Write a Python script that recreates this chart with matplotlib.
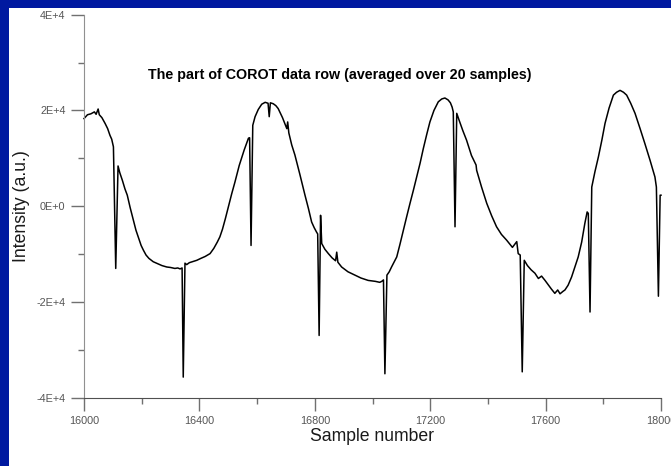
import matplotlib
matplotlib.use("Agg")
import matplotlib.pyplot as plt
from matplotlib.patches import Rectangle
from matplotlib.ticker import MultipleLocator

# Points (sample number, intensity)
samples = [16000, 16012, 16024, 16036, 16042, 16049, 16053, 16062, 16073,
           16082, 16090, 16096, 16102, 16110, 16118, 16124, 16133, 16142,
           16150, 16160, 16171, 16180, 16190, 16198, 16206, 16215, 16225,
           16240, 16255, 16270, 16287, 16300, 16315, 16325, 16333, 16340,
           16344, 16350, 16356, 16365, 16380, 16391, 16405, 16420, 16437,
           16450, 16462, 16471, 16480, 16490, 16500, 16512, 16523, 16538,
           16555, 16570, 16574, 16579, 16585, 16593, 16604, 16616, 16628,
           16638, 16642, 16646, 16656, 16665, 16673, 16688, 16703, 16706,
           16710, 16720, 16731, 16748, 16766, 16778, 16789, 16798, 16806,
           16810, 16815, 16820, 16824, 16835, 16847, 16860, 16872, 16876,
           16880, 16893, 16915, 16939, 16960, 16985, 17010, 17025, 17032,
           17038, 17043, 17050, 17058, 17066, 17084, 17095, 17107, 17118,
           17130, 17142, 17153, 17165, 17176, 17188, 17199, 17213, 17228,
           17240, 17251, 17262, 17270, 17276, 17280, 17286, 17292, 17300,
           17313, 17326, 17343, 17359, 17361, 17378, 17396, 17413, 17430,
           17447, 17465, 17485, 17500, 17505, 17512, 17519, 17526, 17537,
           17550, 17563, 17575, 17586, 17598, 17610, 17620, 17632, 17642,
           17650, 17660, 17667, 17678, 17690, 17700, 17713, 17725, 17736,
           17744, 17748, 17754, 17760, 17771, 17783, 17795, 17806, 17820,
           17835, 17846, 17858, 17870, 17881, 17895, 17910, 17927, 17944,
           17962, 17979, 17984, 17991, 17997, 18000]
intensity = [18300, 19100, 19300, 19700, 19200, 20300, 19100, 18500, 17300,
             16200, 14800, 14000, 12400, -13000, 8400, 7000, 5400, 3600,
             2300, -300, -2900, -5000, -6800, -8200, -9200, -10200, -10900,
             -11600, -12000, -12400, -12700, -12800, -13000, -12900, -13100, -12900,
             -35700, -11900, -12200, -11800, -11500, -11300, -10900, -10500, -9900,
             -8800, -7500, -6400, -4800, -2600, -200, 2600, 5000, 8500,
             11700, 14200, 14300, -8200, 16900, 18700, 20200, 21300, 21700,
             21500, 18700, 21600, 21400, 21000, 20400, 18500, 16200, 17600,
             15300, 12800, 10700, 6700, 2300, -500, -3300, -4500, -5400,
             -5800, -27000, -1900, -7800, -9000, -9900, -10800, -11400, -9600,
             -11700, -12700, -13700, -14400, -15000, -15500, -15700, -15900, -15700,
             -15400, -35000, -14400, -13700, -12700, -10600, -8000, -5000, -2300,
             600, 3400, 6100, 9000, 12000, 15000, 17600, 20000, 21800,
             22400, 22600, 22200, 21600, 20700, 19700, -4300, 19400, 18000,
             15800, 13800, 10600, 8600, 7500, 4000, 600, -2000, -4300,
             -5900, -7100, -8600, -7400, -9900, -10200, -34600, -11300, -12400,
             -13300, -14000, -15100, -14600, -15500, -16500, -17300, -18200, -17500,
             -18300, -17800, -17500, -16500, -14800, -13000, -10600, -7500, -3600,
             -1200, -1500, -22100, 4000, 7200, 10300, 13800, 17300, 20500,
             23200, 23800, 24200, 23800, 23200, 21500, 19400, 16300, 13100,
             9600, 6100, 4000, -18800, 2300, 2300]

W, H = 671, 466
fig = plt.figure(figsize=(W / 100, H / 100), dpi=100, facecolor="#0019A0")

# White slide area, blue strip at the left and top
fig.patches.append(Rectangle((9 / W, 0), 1 - 9 / W, (H - 8) / H,
                             transform=fig.transFigure, facecolor="white",
                             edgecolor="none", zorder=-10))

ax = fig.add_axes([84 / W, (H - 397.7) / H, (661 - 84) / W, (397.7 - 14.7) / H])
ax.set_zorder(5)
ax.patch.set_alpha(0)
ax.plot(samples, intensity, color="black", lw=1.1, clip_on=False)

ax.set_xlim(16000, 18000)
ax.set_ylim(-40000, 40000)
ax.xaxis.set_major_locator(MultipleLocator(400))
ax.xaxis.set_minor_locator(MultipleLocator(200))
ax.yaxis.set_minor_locator(MultipleLocator(10000))
ax.set_yticks([-40000, -20000, 0, 20000, 40000])
ax.set_yticklabels(["-4E+4", "-2E+4", "0E+0", "2E+4", "4E+4"])

for s in ["top", "right"]:
    ax.spines[s].set_visible(False)
ax.spines["left"].set_color("#909090")
ax.spines["bottom"].set_color("#505050")

ax.tick_params(which="major", length=9.3, width=1, color="#707070",
               labelsize=7.8, labelcolor="#555555", pad=4)
ax.tick_params(which="minor", length=4.5, width=1, color="#707070")

ax.set_xlabel("Sample number", fontsize=12.7, color="#1a1a1a",
              family="Liberation Sans", labelpad=1)
ax.set_ylabel("Intensity (a.u.)", fontsize=12.7, color="#1a1a1a",
              family="Liberation Sans")
for lab in ax.get_xticklabels() + ax.get_yticklabels():
    lab.set_family("Liberation Sans")
ax.yaxis.set_label_coords(-(84 - 30) / (661 - 84), 0.5)

fig.text(340 / W, 1 - 75 / H,
         "The part of COROT data row (averaged over 20 samples)",
         ha="center", va="center", fontsize=10.3, fontweight="bold",
         family="Liberation Sans")

plt.savefig("out.png", dpi=100, facecolor=fig.get_facecolor())
